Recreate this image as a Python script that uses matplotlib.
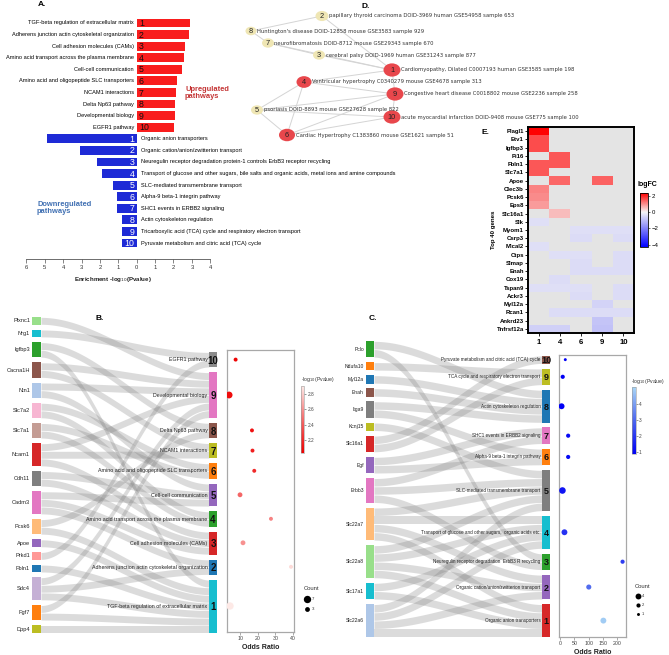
import numpy as np
import matplotlib
matplotlib.use("Agg")
import matplotlib.pyplot as plt
from matplotlib import font_manager as fm
from matplotlib.cm import ScalarMappable
from matplotlib.colors import LinearSegmentedColormap, Normalize
from matplotlib.patches import Ellipse, Rectangle

W, H = 669, 655

# ---------------- panel A: pathway enrichment
up_pathways = [
    "TGF-beta regulation of extracellular matrix",
    "Adherens junction actin cytoskeletal organization",
    "Cell adhesion molecules (CAMs)",
    "Amino acid transport across the plasma membrane",
    "Cell-cell communication",
    "Amino acid and oligopeptide SLC transporters",
    "NCAM1 interactions",
    "Delta Np63 pathway",
    "Developmental biology",
    "EGFR1 pathway",
]
up_logp = [2.9, 2.85, 2.6, 2.55, 2.45, 2.2, 2.15, 2.1, 2.08, 2.05]

down_pathways = [
    "Organic anion transporters",
    "Organic cation/anion/zwitterion transport",
    "Neuregulin receptor degradation protein-1 controls ErbB3 receptor recycling",
    "Transport of glucose and other sugars, bile salts and organic acids, metal ions and amine compounds",
    "SLC-mediated transmembrane transport",
    "Alpha-9 beta-1 integrin pathway",
    "SHC1 events in ERBB2 signaling",
    "Actin cytoskeleton regulation",
    "Tricarboxylic acid (TCA) cycle and respiratory electron transport",
    "Pyruvate metabolism and citric acid (TCA) cycle",
]
down_logp = [4.87, 3.08, 2.16, 1.89, 1.3, 1.08, 1.07, 0.8, 0.8, 0.8]

# ---------------- panel B: genes -> up pathways
b_genes = ["Plxnc1", "Nrg1", "Igfbp3", "Cacna1H", "Ntn1", "Slc7a2", "Slc7a1", "Ncam1", "Cdh11",
           "Cadm3", "Pcsk6", "Apoe", "Prkd1", "Fbln1", "Sdc4", "Fgf7", "Dpp4"]
b_gene_colors = ["#98df8a", "#17becf", "#2ca02c", "#8c564b", "#aec7e8", "#f7b6d2", "#c49c94",
                 "#d62728", "#7f7f7f", "#e377c2", "#ffbb78", "#9467bd", "#ff9896", "#1f77b4",
                 "#c5b0d5", "#ff7f0e", "#bcbd22"]
b_links = [[9], [10], [1, 8], [7, 9], [9, 5], [4, 6], [4, 6], [7, 3, 9], [5, 3],
           [3, 5, 2], [1, 8], [1], [10], [1], [1, 9, 2], [1, 9], [1]]
b_path_colors = ["#17becf", "#1f77b4", "#d62728", "#2ca02c", "#9467bd",
                 "#ff7f0e", "#bcbd22", "#8c564b", "#e377c2", "#8c8c8c"]
b_odds = [4.2, 38.9, 11.6, 27.5, 9.9, 18.0, 17.0, 16.7, 3.7, 7.4]

# ---------------- panel C: genes -> down pathways
c_genes = ["Pclo", "Ndufa10", "Myl12a", "Enah", "Itga9", "Kcnj15", "Slc16a1", "Egf", "Erbb3",
           "Slc22a7", "Slc22a8", "Slc17a1", "Slc22a6"]
c_gene_colors = ["#2ca02c", "#ff7f0e", "#1f77b4", "#8c564b", "#7f7f7f", "#bcbd22", "#d62728",
                 "#9467bd", "#e377c2", "#ffbb78", "#98df8a", "#17becf", "#aec7e8"]
c_links = [[8, 3], [9], [8], [8], [8, 6], [5], [10, 9], [6, 7], [7, 3, 5],
           [5, 4, 2, 1], [5, 4, 2, 1], [4, 1], [5, 4, 2, 1]]
c_pathways = [
    "Organic anion transporters",
    "Organic cation/anion/zwitterion transport",
    "Neuregulin receptor degradation  ErbB3 R recycling",
    "Transport of glucose and other sugars,  organic acids etc.",
    "SLC-mediated transmembrane transport",
    "Alpha-9 beta-1 integrin pathway",
    "SHC1 events in ERBB2 signaling",
    "Actin cytoskeleton regulation",
    "TCA cycle and respiratory electron transport",
    "Pyruvate metabolism and citric acid (TCA) cycle",
]
c_path_colors = ["#d62728", "#9467bd", "#2ca02c", "#17becf", "#7f7f7f",
                 "#ff7f0e", "#e377c2", "#1f77b4", "#bcbd22", "#8c564b"]
c_odds = [151, 100, 218, 15, 8, 28, 28, 5, 9, 18]

# ---------------- panel D: disease network
d_ids = [1, 2, 3, 4, 5, 6, 7, 8, 9, 10]
d_x = [392, 322, 319, 304, 257, 287, 268, 251, 395, 392]
d_y = [70, 16, 55, 82, 110, 135, 43, 31, 94, 117]
d_w = [17, 13, 12, 15, 12, 16, 12, 11, 17, 17]
d_cardiac = [True, False, False, True, False, True, False, False, True, True]
d_labels = [
    "Cardiomyopathy, Dilated C0007193 human GSE3585 sample 198",
    "papillary thyroid carcinoma DOID-3969 human GSE54958 sample 653",
    "cerebral palsy DOID-1969 human GSE31243 sample 877",
    "Ventricular hypertrophy C0340279 mouse GSE4678 sample 313",
    "psoriasis DOID-8893 mouse GSE27628 sample 822",
    "Cardiac Hypertrophy C1383860 mouse GSE1621 sample 51",
    "neurofibromatosis DOID-8712 mouse GSE29343 sample 670",
    "Huntington's disease DOID-12858 mouse GSE3583 sample 929",
    "Congestive heart disease C0018802 mouse GSE2236 sample 258",
    "acute myocardial infarction DOID-9408 mouse GSE775 sample 100",
]
d_edges = [(8, 2), (8, 7), (7, 3), (2, 1), (3, 1), (7, 1), (4, 1), (4, 5), (4, 6), (4, 9),
           (5, 9), (5, 10), (5, 6), (6, 9), (6, 10), (9, 10), (1, 9)]

# ---------------- panel E: logFC heatmap
e_genes = ["Plagl1", "Etv1", "Igfbp3", "Pi16", "Fbln1", "Slc7a1", "Apoe", "Clec3b", "Pcsk6",
           "Eps8", "Slc16a1", "Slk", "Myom1", "Csrp3", "Mical2", "Ctps", "Slmap", "Enah",
           "Cox19", "Tspan9", "Ackr3", "Myl12a", "Rcan1", "Ankrd23", "Tnfrsf12a"]
e_samples = ["1", "4", "6", "9", "10"]
e_logfc = [
    [2.3, 0, 0, 0, 0],
    [1.6, 0, 0, 0, 0],
    [1.6, 0, 0, 0, 0],
    [0, 1.5, 0, 0, 0],
    [1.5, 1.5, 0, 0, 0],
    [1.5, 0, 0, 0, 0],
    [0, 1.35, 0, 1.4, 0],
    [1.1, 0, 0, 0, 0],
    [1.0, 0, 0, 0, 0],
    [0.85, 0, 0, 0, 0],
    [0, 0.55, 0, 0, 0],
    [-0.4, 0, 0, 0, 0],
    [0, 0, -0.4, -0.4, -0.4],
    [0, 0, -0.45, 0, -0.45],
    [-0.4, 0, 0, 0, 0],
    [0, -0.4, -0.4, 0, -0.45],
    [0, 0, -0.45, 0, -0.45],
    [0, 0, -0.45, -0.45, -0.45],
    [0, -0.45, 0, 0, 0],
    [-0.4, -0.4, -0.4, 0, -0.45],
    [0, 0, -0.45, 0, -0.45],
    [0, 0, 0, -0.6, 0],
    [0, -0.45, -0.45, -0.45, -0.45],
    [0, 0, 0, -0.85, 0],
    [-0.65, -0.65, 0, -0.9, 0],
]

# ---------------- fonts
plt.rcParams["font.family"] = ["Liberation Sans", "DejaVu Sans"]
names = {f.name for f in fm.fontManager.ttflist}
if "Liberation Sans Narrow" in names:
    NARROW, NS = "Liberation Sans Narrow", 1.0
else:
    NARROW, NS = "Liberation Sans", 0.84

fig = plt.figure(figsize=(W / 100, H / 100), dpi=100)
fig.patch.set_facecolor("white")


def box(x0, y0, x1, y1):
    """Axes placed in pixel coordinates (origin top-left)."""
    return fig.add_axes([x0 / W, 1 - y1 / H, (x1 - x0) / W, (y1 - y0) / H])


# ================= panel A
ax_a = box(26.3, 15, 210.3, 259)
rows_up = np.arange(10)
rows_down = np.arange(10, 20)
ax_a.barh(rows_up, up_logp, height=0.76, color="#f91d1d", lw=0)
ax_a.barh(rows_down, [-v for v in down_logp], height=0.76, color="#1e2ad6", lw=0)
ax_a.set_xlim(-6, 4)
ax_a.set_ylim(20.38, -0.69)
for i, lab in enumerate(up_pathways):
    ax_a.text(-0.15, rows_up[i], lab, ha="right", va="center", family=NARROW, fontsize=4.8 * NS)
    ax_a.text(0.12, rows_up[i] + 0.05, str(i + 1), ha="left", va="center", fontsize=6.3, color="#111")
for i, lab in enumerate(down_pathways):
    ax_a.text(0.23, rows_down[i], lab, ha="left", va="center", family=NARROW, fontsize=4.8 * NS,
              clip_on=False)
    ax_a.text(-0.12, rows_down[i] + 0.05, str(i + 1), ha="right", va="center", fontsize=6.3,
              color="white")
for s in ("left", "right", "top"):
    ax_a.spines[s].set_visible(False)
ax_a.spines["bottom"].set_color("#555555")
ax_a.spines["bottom"].set_linewidth(0.6)
ax_a.set_yticks([])
ax_a.set_xticks(range(-6, 5))
ax_a.set_xticklabels([str(abs(v)) for v in range(-6, 5)], family=NARROW, fontsize=5 * NS, color="#333")
ax_a.tick_params(axis="x", length=3, width=0.5, color="#555555", pad=1.5)
ax_a.patch.set_alpha(0)


# ================= sankey helper
def sankey(ax, genes, gcolors, links, plabels, pcolors, unit, gap, wl, wr, span,
           gfs, pfs, nfs):
    n_path = len(plabels)
    order = list(range(n_path, 0, -1))
    left = {}
    y = 0.0
    for g, lk in zip(genes, links):
        left[g] = (y, y + len(lk) * unit)
        y += len(lk) * unit + gap
    total = y - gap
    counts = {p: sum(p in lk for lk in links) for p in order}
    right_total = sum(counts.values()) * unit + gap * (n_path - 1)
    right = {}
    y = total - right_total
    for p in order:
        right[p] = (y, y + counts[p] * unit)
        y += counts[p] * unit + gap

    lseg, rseg = {}, {}
    for g, lk in zip(genes, links):
        cur = left[g][0]
        for p in sorted(lk, key=order.index):
            lseg[(g, p)] = (cur, cur + unit)
            cur += unit
    for p in order:
        cur = right[p][0]
        for g, lk in zip(genes, links):
            if p in lk:
                rseg[(g, p)] = (cur, cur + unit)
                cur += unit

    t = np.linspace(0, 1, 80)
    s = t * t * (3 - 2 * t)
    xs = wl + (span - wl - wr) * t
    pad = 0.35
    for (g, p), (a0, a1) in lseg.items():
        b0, b1 = rseg[(g, p)]
        ax.fill_between(xs, a0 + pad + (b0 - a0) * s, a1 - pad + (b1 - a1) * s,
                        color="#7c7c7c", alpha=0.27, lw=0)

    for g, c in zip(genes, gcolors):
        y0, y1 = left[g]
        ax.add_patch(Rectangle((0, y0), wl, y1 - y0, color=c, lw=0))
        ax.text(-2, (y0 + y1) / 2, g, ha="right", va="center", family=NARROW,
                fontsize=gfs * NS, color="#222")
    centers = {}
    for p in order:
        y0, y1 = right[p]
        centers[p] = (y0 + y1) / 2
        ax.add_patch(Rectangle((span - wr, y0), wr, y1 - y0, color=pcolors[p - 1], lw=0))
        ax.text(span - wr - 1.5, centers[p], plabels[p - 1], ha="right", va="center",
                family=NARROW, fontsize=pfs * NS, color="#222")
        ax.text(span - wr / 2, centers[p] + 1, str(p), ha="center", va="center",
                fontsize=nfs, fontweight="bold", color="#111")
    ax.set_xlim(0, span)
    ax.set_ylim(total, 0)
    ax.axis("off")
    return total, centers


def dotplot(ax, centers, odds, counts, cvals, cmap, norm, scale, xlim, xticks, ylim):
    ps = sorted(centers)
    ax.scatter([odds[p - 1] for p in ps], [centers[p] for p in ps],
               s=[scale * counts[p - 1] for p in ps], c=[cvals[p - 1] for p in ps],
               cmap=cmap, norm=norm, lw=0, zorder=3)
    ax.set_xlim(*xlim)
    ax.set_ylim(*ylim)
    ax.set_yticks([])
    ax.set_xticks(xticks)
    ax.tick_params(axis="x", length=1.8, width=0.5, color="#888", labelsize=3.8, pad=1,
                   labelcolor="#444")
    for sp in ax.spines.values():
        sp.set_color("#a8a8a8")
        sp.set_linewidth(0.9)
    ax.set_xlabel("Odds Ratio", fontsize=5, fontweight="bold", labelpad=2.5, color="#222")


# ================= panel B
b_top = 317
ax_bs = box(32, b_top, 217, 633)
b_total, b_centers = sankey(ax_bs, b_genes, b_gene_colors, b_links, up_pathways, b_path_colors,
                            unit=7.6, gap=5.0, wl=9, wr=8, span=185, gfs=4.8, pfs=4.5, nfs=7)
b_counts = [sum(p in lk for lk in b_links) for p in range(1, 11)]
cmap_b = LinearSegmentedColormap.from_list("redsr", ["#ee0000", "#f46a6a", "#fde9e6"])
norm_b = Normalize(2.03, 2.9)
ax_bd = box(227, 350, 294, 632)
dotplot(ax_bd, b_centers, b_odds, b_counts, up_logp, cmap_b, norm_b, 4.0,
        (2.5, 40.6), [10, 20, 30, 40], (632 - b_top, 350 - b_top))
cax_b = box(301, 386, 304, 453)
cb = fig.colorbar(ScalarMappable(norm=norm_b, cmap=cmap_b), cax=cax_b, ticks=[2.2, 2.4, 2.6, 2.8])
cb.ax.tick_params(labelsize=3.4, length=1.5, width=0.4, pad=1, colors="#444")
cb.outline.set_linewidth(0.4)
cb.outline.set_edgecolor("#999")

# ================= panel C
c_top = 341
ax_cs = box(366, c_top, 550, 637)
c_total, c_centers = sankey(ax_cs, c_genes, c_gene_colors, c_links, c_pathways, c_path_colors,
                            unit=8.2, gap=4.85, wl=8, wr=8, span=184, gfs=4.3, pfs=4.0, nfs=6.5)
c_counts = [sum(p in lk for lk in c_links) for p in range(1, 11)]
cmap_c = LinearSegmentedColormap.from_list("bluesr", ["#0000f5", "#4d66ee", "#a9d6f5"])
norm_c = Normalize(0.88, 5.06)
ax_cd = box(559, 355, 626, 637)
dotplot(ax_cd, c_centers, c_odds, c_counts, down_logp, cmap_c, norm_c, 4.5,
        (-4, 230), [0, 50, 100, 150, 200], (637 - c_top, 355 - c_top))
cax_c = box(632, 387, 635.5, 454)
cb = fig.colorbar(ScalarMappable(norm=norm_c, cmap=cmap_c), cax=cax_c, ticks=[1, 2, 3, 4])
cb.ax.tick_params(labelsize=3.4, length=1.5, width=0.4, pad=1, colors="#444")
cb.outline.set_linewidth(0.4)
cb.outline.set_edgecolor("#999")

# ================= panel E
vals = np.ma.masked_equal(np.array(e_logfc, dtype=float), 0)
cmap_e = LinearSegmentedColormap.from_list(
    "bwr_e", [(0.0, "#0000ff"), (4.3 / 6.65, "#f6f6f6"), (1.0, "#ff0000")])
cmap_e.set_bad("#e4e4e4")
norm_e = Normalize(-4.3, 2.35)
ax_e = box(528, 127, 634, 333)
ax_e.imshow(vals, cmap=cmap_e, norm=norm_e, aspect="auto", interpolation="nearest")
ax_e.set_yticks(range(len(e_genes)))
ax_e.set_yticklabels(e_genes, fontsize=4.3, fontweight="bold")
ax_e.set_xticks(range(len(e_samples)))
ax_e.set_xticklabels(e_samples, fontsize=5.6, fontweight="bold")
ax_e.tick_params(length=2, width=0.6, pad=1)
ax_e.tick_params(axis="x", pad=2)
for sp in ax_e.spines.values():
    sp.set_linewidth(1.4)
cax_e = box(640, 193, 648, 247)
cb = fig.colorbar(ScalarMappable(norm=norm_e, cmap=cmap_e), cax=cax_e, ticks=[2, 0, -2, -4])
cb.ax.tick_params(labelsize=4.3, length=1.5, width=0.4, pad=1)
cb.outline.set_linewidth(0.6)

# ================= overlay: panel D network, labels and legends
ov = fig.add_axes([0, 0, 1, 1])
ov.set_xlim(0, W)
ov.set_ylim(H, 0)
ov.axis("off")

pos = {i: (x, y) for i, x, y in zip(d_ids, d_x, d_y)}
for a, b in d_edges:
    ov.plot([pos[a][0], pos[b][0]], [pos[a][1], pos[b][1]], color="#d4d4d4", lw=0.7, zorder=1)
for i, x, y, w, card, lab in zip(d_ids, d_x, d_y, d_w, d_cardiac, d_labels):
    ov.add_patch(Ellipse((x, y), w, w * 0.78, color="#e8474c" if card else "#efe6b4",
                         lw=0, zorder=2))
    ov.text(x, y + 0.5, str(i), ha="center", va="center", fontsize=5.3, color="#222", zorder=3)
    ov.text(x + w / 2 + 0.5, y, lab, ha="left", va="center", family="DejaVu Sans",
            fontsize=3.8, color="#333", zorder=3)

ov.text(42, 5, "A.", fontsize=6, fontweight="bold", ha="center", va="center")
ov.text(366, 6, "D.", fontsize=6, fontweight="bold", ha="center", va="center")
ov.text(485, 133, "E.", fontsize=6, fontweight="bold", ha="center", va="center")
ov.text(100, 318, "B.", fontsize=6, fontweight="bold", ha="center", va="center")
ov.text(373, 319, "C.", fontsize=6, fontweight="bold", ha="center", va="center")

ov.text(185, 93, "Upregulated\npathways", fontsize=5.4, fontweight="bold", color="#c43434",
        ha="left", va="center", linespacing=1.0)
ov.text(37, 208, "Downregulated\npathways", fontsize=5.4, fontweight="bold", color="#3f6fb2",
        ha="left", va="center", linespacing=1.0)
ov.text(113, 279, r"Enrichment -log$_{10}$(Pvalue)", fontsize=4.4, fontweight="bold",
        ha="center", va="center", color="#222")

ov.text(494, 230, "Top 40 genes", rotation=90, fontsize=4.4, fontweight="bold",
        ha="center", va="center")
ov.text(638, 185, "logFC", fontsize=5, fontweight="bold", ha="left", va="center")

ov.text(301, 380, r"-log$_{10}$(Pvalue)", fontsize=3.7, ha="left", va="center", color="#333")
ov.text(631, 382, r"-log$_{10}$(Pvalue)", fontsize=3.7, ha="left", va="center", color="#333")

# count legends
ov.text(304, 588, "Count", fontsize=4.2, ha="left", va="center", color="#333")
for cnt, yy in [(7, 599), (3, 609)]:
    ov.scatter([307], [yy], s=4.0 * cnt, color="black", lw=0)
    ov.text(312, yy, str(cnt), fontsize=3.2, ha="left", va="center", color="#333")
ov.text(635, 586, "Count", fontsize=4.2, ha="left", va="center", color="#333")
for cnt, yy in [(4, 596), (2, 605), (1, 614)]:
    ov.scatter([637.5], [yy], s=4.5 * cnt, color="black", lw=0)
    ov.text(642, yy, str(cnt), fontsize=3.0, ha="left", va="center", color="#333")

fig.savefig("out.png", dpi=100, facecolor="white")
